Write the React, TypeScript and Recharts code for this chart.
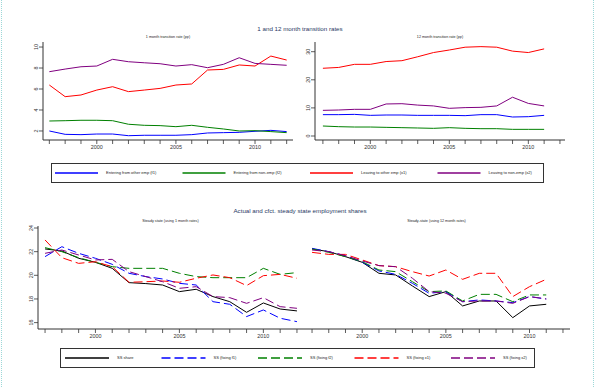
import React from "react";
import { LineChart, Line, XAxis, YAxis } from "recharts";

// years on the x axis
const years = [1997, 1998, 1999, 2000, 2001, 2002, 2003, 2004, 2005, 2006, 2007, 2008, 2009, 2010, 2011, 2012];
const years12 = years.slice(0, 15); // 12 month series stop in 2011

// 1 month transition rates (pp)
const m1F1 = [2.0, 1.68, 1.65, 1.71, 1.71, 1.55, 1.59, 1.59, 1.59, 1.65, 1.81, 1.84, 1.87, 1.97, 2.06, 1.94];
const m1F2 = [2.95, 2.98, 3.02, 3.02, 2.98, 2.64, 2.54, 2.51, 2.41, 2.54, 2.35, 2.19, 2.0, 2.03, 1.94, 1.84];
const m1X1 = [6.38, 5.27, 5.43, 5.9, 6.22, 5.75, 5.9, 6.06, 6.38, 6.48, 7.81, 7.87, 8.29, 8.19, 9.14, 8.76];
const m1X2 = [7.65, 7.9, 8.12, 8.19, 8.83, 8.6, 8.5, 8.41, 8.19, 8.32, 8.03, 8.35, 8.98, 8.44, 8.35, 8.26];

// 12 month transition rates (pp)
const m12F1 = [7.6, 7.6, 7.7, 7.35, 7.47, 7.47, 7.35, 7.35, 7.35, 7.24, 7.6, 7.6, 6.76, 6.88, 7.35];
const m12F2 = [3.56, 3.32, 3.2, 3.2, 3.08, 2.97, 2.85, 2.73, 2.97, 2.73, 2.61, 2.61, 2.37, 2.37, 2.37];
const m12X1 = [24.1, 24.4, 25.5, 25.5, 26.5, 26.8, 28.2, 29.7, 30.6, 31.6, 31.8, 31.6, 30.2, 29.7, 31.0];
const m12X2 = [9.13, 9.25, 9.49, 9.49, 11.4, 11.5, 11.0, 10.7, 9.85, 10.1, 10.2, 10.7, 13.8, 11.6, 10.7];

// steady state shares, 1 month rates
const ss1Share = [22.23, 22.06, 21.44, 21.1, 20.59, 19.38, 19.3, 19.18, 18.62, 18.82, 18.2, 17.77, 16.87, 17.66, 17.15, 16.99];
const ss1F1 = [21.58, 22.42, 21.86, 21.44, 20.93, 20.17, 19.89, 19.69, 19.32, 19.18, 17.77, 17.55, 16.51, 17.07, 16.37, 16.08];
const ss1F2 = [22.34, 22.0, 21.49, 21.1, 20.73, 20.59, 20.59, 20.59, 20.17, 19.89, 19.8, 19.8, 19.8, 20.59, 20.08, 20.23];
const ss1X1 = [22.99, 21.49, 21.01, 21.15, 20.73, 19.41, 19.46, 19.52, 19.41, 19.75, 20.03, 19.8, 19.13, 19.97, 20.08, 19.75];
const ss1X2 = [21.86, 22.14, 21.72, 21.3, 21.35, 20.31, 19.89, 19.46, 18.9, 19.04, 18.2, 18.11, 17.63, 18.11, 17.35, 17.21];

// steady state shares, 12 month rates
const ss12Share = [22.23, 22.0, 21.58, 21.1, 20.17, 20.03, 19.1, 18.2, 18.62, 17.41, 17.83, 17.83, 16.42, 17.41, 17.55];
const ss12F1 = [22.28, 22.0, 21.66, 21.1, 20.37, 20.08, 19.32, 18.48, 18.62, 17.77, 17.92, 17.83, 17.69, 18.2, 18.0];
const ss12F2 = [22.23, 21.94, 21.58, 21.15, 20.45, 20.31, 19.46, 18.62, 18.68, 17.83, 18.39, 18.39, 17.77, 18.34, 18.34];
const ss12X1 = [21.94, 21.77, 21.77, 21.3, 20.82, 20.73, 20.31, 19.94, 20.45, 19.66, 20.17, 20.17, 18.2, 19.04, 19.66];
const ss12X2 = [22.14, 22.0, 21.66, 21.21, 20.82, 20.73, 19.75, 18.62, 18.48, 17.77, 17.83, 17.83, 17.63, 18.2, 18.0];

const rateLegend = ["Entering from other emp (f1)", "Entering from non-emp (f2)", "Leaving to other emp (x1)", "Leaving to non-emp (x2)"];
const ssLegend = ["SS share", "SS (fixing f1)", "SS (fixing f2)", "SS (fixing x1)", "SS (fixing x2)"];

const ticks1m = [2, 4, 6, 8, 10];
const ticks12m = [0, 10, 20, 30];
const ticksSS = [16, 18, 20, 22, 24];

const font = "'Liberation Sans', Arial, sans-serif";
const ink = "#333";
const titleInk = "#1f3864";
const BLUE = "#0000ff";
const GREEN = "#008000";
const RED = "#ff0000";
const PURPLE = "#800080";
const DASH = "9 4";

type Series = { key: string; color: string; dash?: string };

const rateSeries: Series[] = [
  { key: "f1", color: BLUE },
  { key: "f2", color: GREEN },
  { key: "x1", color: RED },
  { key: "x2", color: PURPLE },
];
const ssSeries: Series[] = [
  { key: "ss", color: "#000" },
  { key: "f1", color: BLUE, dash: DASH },
  { key: "f2", color: GREEN, dash: DASH },
  { key: "x1", color: RED, dash: DASH },
  { key: "x2", color: PURPLE, dash: DASH },
];

function toRows(xs: number[], cols: Record<string, number[]>) {
  return xs.map((year, i) => {
    const row: Record<string, number> = { year };
    Object.keys(cols).forEach((k) => (row[k] = cols[k][i]));
    return row;
  });
}

const data1m = toRows(years, { f1: m1F1, f2: m1F2, x1: m1X1, x2: m1X2 });
const data12m = toRows(years12, { f1: m12F1, f2: m12F2, x1: m12X1, x2: m12X2 });
const dataSS1 = toRows(years, { ss: ss1Share, f1: ss1F1, f2: ss1F2, x1: ss1X1, x2: ss1X2 });
const dataSS12 = toRows(years12, { ss: ss12Share, f1: ss12F1, f2: ss12F2, x1: ss12X1, x2: ss12X2 });

const YTick = (props: any) => {
  const { x, y, payload } = props;
  return (
    <text x={x} y={y} transform={`rotate(-90 ${x} ${y})`} textAnchor="middle" fontSize={5.4} fill={ink} fontFamily={font}>
      {payload.value}
    </text>
  );
};

type PanelProps = {
  left: number;
  top: number;
  width: number;
  height: number;
  yWidth: number;
  marginTop: number;
  marginRight: number;
  xDomain: [number, number];
  yDomain: [number, number];
  yTicks?: number[];
  data: Record<string, number>[];
  series: Series[];
  subtitle: string;
};

function Panel(p: PanelProps) {
  const plotLeft = p.yWidth;
  const plotRight = p.width - p.marginRight;
  return (
    <div style={{ position: "absolute", left: p.left, top: p.top, width: p.width, height: p.height }}>
      <div
        style={{
          position: "absolute",
          left: plotLeft,
          width: plotRight - plotLeft,
          top: p.marginTop - 7,
          textAlign: "center",
          fontSize: 3.7,
          fontFamily: font,
          color: "#222",
          lineHeight: "4px",
          whiteSpace: "nowrap",
        }}
      >
        {p.subtitle}
      </div>
      <LineChart width={p.width} height={p.height} data={p.data} margin={{ top: p.marginTop, right: p.marginRight, bottom: 0, left: 0 }}>
        <XAxis
          dataKey="year"
          type="number"
          domain={p.xDomain}
          ticks={years}
          interval={0}
          height={20}
          tickSize={4}
          tickMargin={1}
          tickFormatter={(v: number) => (v % 5 === 0 ? String(v) : "")}
          tick={{ fontSize: 5.4, fill: ink, fontFamily: font }}
          axisLine={{ stroke: ink, strokeWidth: 1 }}
          tickLine={{ stroke: ink, strokeWidth: 0.8 }}
          allowDataOverflow
        />
        <YAxis
          type="number"
          domain={p.yDomain}
          ticks={p.yTicks}
          interval={0}
          width={p.yWidth}
          hide={!p.yTicks}
          tickSize={4}
          tickMargin={1}
          tick={<YTick />}
          axisLine={{ stroke: ink, strokeWidth: 1 }}
          tickLine={{ stroke: ink, strokeWidth: 0.8 }}
          allowDataOverflow
        />
        {p.series.map((s) => (
          <Line
            key={s.key}
            dataKey={s.key}
            type="linear"
            stroke={s.color}
            strokeWidth={1}
            strokeDasharray={s.dash}
            dot={false}
            isAnimationActive={false}
          />
        ))}
      </LineChart>
    </div>
  );
}

function LegendBox(props: {
  left: number;
  top: number;
  width: number;
  height: number;
  firstX: number;
  step: number;
  lineLen: number;
  labels: string[];
  series: Series[];
}) {
  const cy = props.height / 2;
  return (
    <svg
      style={{ position: "absolute", left: props.left, top: props.top }}
      width={props.width}
      height={props.height}
    >
      <rect x={0.5} y={0.5} width={props.width - 1} height={props.height - 1} fill="#fff" stroke={ink} strokeWidth={1} />
      {props.labels.map((label, i) => {
        const x0 = props.firstX + i * props.step;
        const s = props.series[i];
        return (
          <g key={label}>
            <line x1={x0} x2={x0 + props.lineLen} y1={cy} y2={cy} stroke={s.color} strokeWidth={1.6} strokeDasharray={s.dash} />
            <text x={x0 + props.lineLen + 8} y={cy + 1.4} fontSize={4} fill="#222" fontFamily={font}>
              {label}
            </text>
          </g>
        );
      })}
    </svg>
  );
}

const titleStyle: React.CSSProperties = {
  position: "absolute",
  left: 0,
  width: 600,
  textAlign: "center",
  fontFamily: font,
  fontSize: 6.2,
  color: titleInk,
  lineHeight: "7px",
};

export default function App() {
  return (
    <div
      style={{
        position: "fixed",
        left: 0,
        top: 0,
        width: 600,
        height: 387,
        background: "#fff",
        overflow: "hidden",
      }}
    >
      <div style={{ position: "absolute", left: 1, top: 0, height: 387, borderLeft: "1px dotted #9cd8d8" }} />
      <div style={{ position: "absolute", left: 593, top: 0, height: 387, borderLeft: "1px dotted #9cd8d8" }} />

      <div style={{ ...titleStyle, top: 25 }}>1 and 12 month transition rates</div>
      <Panel
        left={0}
        top={30}
        width={300}
        height={130}
        yWidth={43}
        marginTop={12}
        marginRight={7}
        xDomain={[1996.6, 2012.4]}
        yDomain={[1.14, 10.48]}
        yTicks={ticks1m}
        data={data1m}
        series={rateSeries}
        subtitle="1 month transition rate (pp)"
      />
      <Panel
        left={280}
        top={30}
        width={292}
        height={130}
        yWidth={35}
        marginTop={12}
        marginRight={7}
        xDomain={[1996.5, 2012.32]}
        yDomain={[-1.42, 33.45]}
        yTicks={ticks12m}
        data={data12m}
        series={rateSeries}
        subtitle="12 month transition rate (pp)"
      />
      <LegendBox left={51} top={163} width={493} height={20} firstX={4} step={127.5} lineLen={43} labels={rateLegend} series={rateSeries} />

      <div style={{ ...titleStyle, top: 207 }}>Actual and cfct. steady state employment shares</div>
      <Panel
        left={0}
        top={215}
        width={310}
        height={134}
        yWidth={38}
        marginTop={11}
        marginRight={7}
        xDomain={[1996.58, 2012.36]}
        yDomain={[15.46, 24.17]}
        yTicks={ticksSS}
        data={dataSS1}
        series={ssSeries}
        subtitle="Steady state (using 1 month rates)"
      />
      <Panel
        left={303}
        top={215}
        width={274}
        height={134}
        yWidth={0}
        marginTop={11}
        marginRight={7}
        xDomain={[1996.46, 2012.42]}
        yDomain={[15.46, 24.17]}
        data={dataSS12}
        series={ssSeries}
        subtitle="Steady-state (using 12 month rates)"
      />
      <LegendBox left={60} top={348} width={475} height={20} firstX={5} step={96.5} lineLen={44} labels={ssLegend} series={ssSeries} />
    </div>
  );
}
